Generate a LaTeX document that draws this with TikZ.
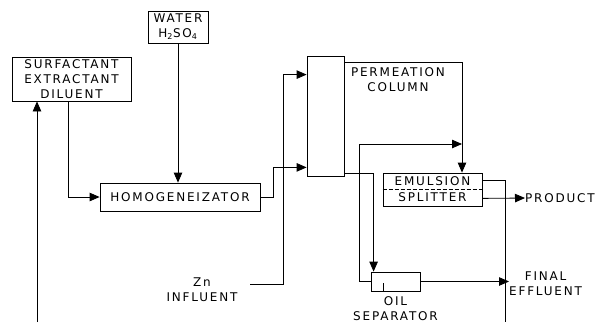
\documentclass[tikz,border=0pt]{standalone}
\usepackage{fontspec}
\setmainfont{DejaVu Sans}[LetterSpace=15]
\usetikzlibrary{positioning,calc,arrows.meta}

\tikzset{
  blk/.style={draw, line width=0.8pt, inner sep=0pt, align=center},
  flow/.style={line width=0.8pt, -{Triangle[length=10pt,width=8.5pt]}},
  pipe/.style={line width=0.8pt},
  lbl/.style={inner sep=0pt, align=center}
}

\begin{document}
\begin{tikzpicture}[x=1pt, y=-1pt, font=\fontsize{12}{15}\selectfont]
  \useasboundingbox (0,0) rectangle (600,322);

  % feed tanks
  \node[blk, minimum width=60pt, minimum height=32pt] (water) at (178,27) {WATER\\H\textsubscript{2}SO\textsubscript{4}};
  \node[blk, minimum width=119pt, minimum height=44pt] (surf) at (71.5,79) {SURFACTANT\\EXTRACTANT\\DILUENT};

  % process units
  \node[blk, minimum width=160pt, minimum height=28pt] (homog) at (180,197) {HOMOGENEIZATOR};
  \node[blk, minimum width=37pt, minimum height=120pt] (column) at (325.5,116) {};
  \node[lbl] (colname) at (398,80) {PERMEATION\\COLUMN};
  \node[blk, minimum width=99pt, minimum height=33pt] (splitter) at (432.5,189.5) {EMULSION\\[1pt]SPLITTER};
  \node[blk, minimum width=49pt, minimum height=19pt] (oilsep) at (395.5,281.5) {};
  \node[lbl, below=5pt of oilsep] (oilname) {OIL\\SEPARATOR};

  % in/out labels
  \node[lbl] (zn) at (202,290) {Zn\hspace{2.2em}\\INFLUENT};
  \node[lbl, anchor=west] (product) at (525,198) {PRODUCT};
  \node[lbl, anchor=west] (final) at (509,283.5) {FINAL\\EFFLUENT};

  % free ends
  \coordinate (recyc) at (37,322);
  \coordinate (znin) at (250,284);
  \coordinate (mix) at (462,144);
  \coordinate (drain) at (505,322);

  % splitter divider and separator weir
  \draw[pipe, dashed, dash pattern=on 4pt off 2pt] (splitter.west) -- (splitter.east);
  \draw[pipe] ([xshift=13pt]oilsep.south west) -- ++(0,-8);

  % feeds to homogenizer
  \draw[flow] (water.south) -- (water.south |- homog.north);
  \draw[flow] ([xshift=-3.5pt]surf.south) |- (homog.west);
  \draw[flow] (recyc) -- (recyc |- surf.south);

  % to the column
  \draw[flow] (homog.east) -- ++(13,0) |- ([yshift=9pt]column.south west);
  \draw[flow] (znin) -- ++(33,0) |- ([yshift=-19pt]column.north west);

  % out of the column
  \draw[flow] ([yshift=-7pt]column.north east) -| ([xshift=29.5pt]splitter.north);
  \draw[flow] ([yshift=3pt]column.south east) -| ([xshift=3pt]oilsep.north west);
  \draw[flow] (oilsep.west) -- ++(-11,0) |- (mix);

  % products
  \draw[pipe] ([yshift=-8pt]splitter.north east) -| (drain);
  \draw[flow] ([yshift=8pt]splitter.south east) -- (product.west);
  \draw[flow] (oilsep.east) -- (oilsep.east -| final.west);
\end{tikzpicture}
\end{document}
